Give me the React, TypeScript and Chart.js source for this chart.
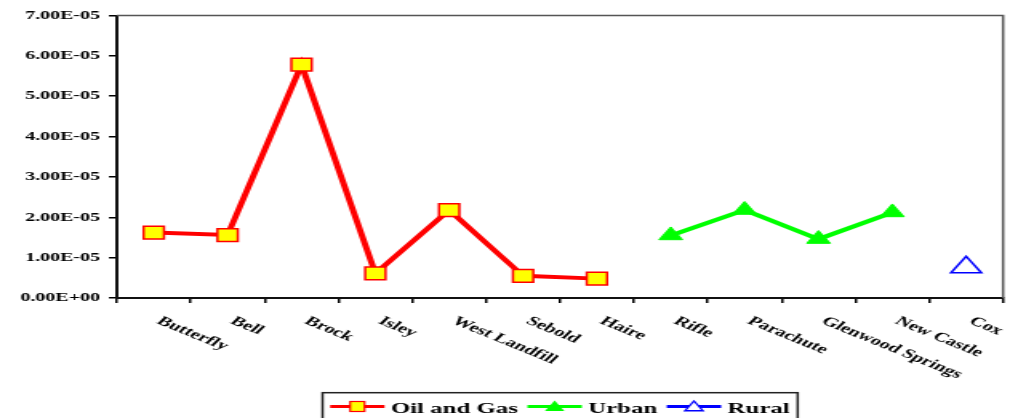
import React, { useEffect, useRef } from 'react';
import { Chart, registerables } from 'chart.js';

Chart.register(...registerables);

const categories = [
  'Butterfly', 'Bell', 'Brock', 'Isley', 'West Landfill', 'Sebold', 'Haire',
  'Rifle', 'Parachute', 'Glenwood Springs', 'New Castle', 'Cox',
];
const oilAndGas = [1.62e-5, 1.56e-5, 5.78e-5, 0.61e-5, 2.18e-5, 0.55e-5, 0.48e-5, null, null, null, null, null];
const urban = [null, null, null, null, null, null, null, 1.55e-5, 2.18e-5, 1.46e-5, 2.12e-5, null];
const rural = [null, null, null, null, null, null, null, null, null, null, null, 0.76e-5];
const seriesNames = ['Oil and Gas', 'Urban', 'Rural'];
const yMin = 0;
const yMax = 7e-5;
const yStep = 1e-5;

const FONT = "'Liberation Serif', 'Times New Roman', serif";
const INNER_W = 631;
const INNER_H = 418;

function sci(v: number): string {
  if (Math.abs(v) < 1e-12) return '0.00E+00';
  const [m, e] = v.toExponential(2).split('e');
  const n = parseInt(e, 10);
  return m + 'E' + (n < 0 ? '-' : '+') + String(Math.abs(n)).padStart(2, '0');
}

const framePlugin = {
  id: 'frame',
  afterDraw(chart: any) {
    const { ctx, chartArea } = chart;
    ctx.save();
    ctx.strokeStyle = '#555';
    ctx.lineWidth = 1.5;
    ctx.beginPath();
    ctx.moveTo(chartArea.left, chartArea.top);
    ctx.lineTo(chartArea.right, chartArea.top);
    ctx.lineTo(chartArea.right, chartArea.bottom);
    ctx.stroke();
    ctx.restore();
  },
};

const xLabelPlugin = {
  id: 'xLabels',
  afterDraw(chart: any) {
    const ctx = chart.ctx;
    const xs = chart.scales.x;
    ctx.save();
    ctx.font = `bold 13px ${FONT}`;
    ctx.fillStyle = '#000';
    ctx.textAlign = 'left';
    ctx.textBaseline = 'top';
    (chart.data.labels as string[]).forEach((lab, i) => {
      const x = xs.getPixelForValue(i) + 6.5;
      const y = xs.top + 16.5;
      ctx.save();
      ctx.translate(x, y);
      ctx.rotate((33 * Math.PI) / 180);
      ctx.fillText(lab, 0, 0);
      ctx.restore();
    });
    ctx.restore();
  },
};

function tri(ctx: CanvasRenderingContext2D, x: number, y: number, r: number) {
  ctx.beginPath();
  for (let k = 0; k < 3; k++) {
    const a = (k * 2 * Math.PI) / 3;
    const px = x + Math.sin(a) * r;
    const py = y - Math.cos(a) * r;
    if (k === 0) ctx.moveTo(px, py);
    else ctx.lineTo(px, py);
  }
  ctx.closePath();
}

const legendPlugin = {
  id: 'customLegend',
  afterDraw(chart: any) {
    const ctx: CanvasRenderingContext2D = chart.ctx;
    const ds = chart.data.datasets;
    ctx.save();
    ctx.font = `bold 15.5px ${FONT}`;
    const left = 201.5;
    const top = 392.7;
    const lineY = 406.5;
    const textY = 413;
    let x = left + 4.75;
    const ends: number[] = [];
    ds.forEach((d: any, i: number) => {
      const lx0 = x;
      const lx1 = x + 34;
      ctx.strokeStyle = d.borderColor;
      ctx.lineWidth = 3;
      ctx.beginPath();
      ctx.moveTo(lx0, lineY);
      ctx.lineTo(lx1, lineY);
      ctx.stroke();
      const cx = (lx0 + lx1) / 2;
      if (i === 0) {
        ctx.fillStyle = '#FFFF00';
        ctx.strokeStyle = '#FF0000';
        ctx.lineWidth = 1.2;
        ctx.fillRect(cx - 4.5, lineY - 5, 9, 10);
        ctx.strokeRect(cx - 4.5, lineY - 5, 9, 10);
      } else if (i === 1) {
        ctx.fillStyle = '#00FF00';
        tri(ctx, cx, lineY + 1, 7);
        ctx.fill();
      } else {
        ctx.fillStyle = '#FFFFFF';
        ctx.strokeStyle = '#0000FF';
        ctx.lineWidth = 1.3;
        tri(ctx, cx, lineY + 1, 6.5);
        ctx.fill();
        ctx.stroke();
      }
      const tx = lx1 + 4;
      ctx.fillStyle = '#000';
      ctx.textAlign = 'left';
      ctx.textBaseline = 'alphabetic';
      ctx.fillText(d.label, tx, textY);
      const w = ctx.measureText(d.label).width;
      x = tx + w + 6;
      ends.push(tx + w);
    });
    const right = ends[ends.length - 1] + 5;
    ctx.strokeStyle = '#222';
    ctx.lineWidth = 1.5;
    ctx.strokeRect(left, top, right - left, 60);
    ctx.restore();
  },
};

export default function App() {
  const ref = useRef<HTMLCanvasElement | null>(null);

  useEffect(() => {
    document.body.style.margin = '0';
    document.body.style.overflow = 'hidden';
    const canvas = ref.current;
    if (!canvas) return;
    const chart = new Chart(canvas, {
      type: 'line',
      data: {
        labels: categories,
        datasets: [
          {
            label: seriesNames[0],
            data: oilAndGas,
            borderColor: '#FF0000',
            backgroundColor: '#FFFF00',
            borderWidth: 4,
            pointStyle: 'rect',
            pointRadius: 9,
            pointBackgroundColor: '#FFFF00',
            pointBorderColor: '#FF0000',
            pointBorderWidth: 1.5,
            tension: 0,
            spanGaps: false,
          },
          {
            label: seriesNames[1],
            data: urban,
            borderColor: '#00FF00',
            backgroundColor: '#00FF00',
            borderWidth: 4,
            pointStyle: 'triangle',
            pointRadius: 8.5,
            pointBackgroundColor: '#00FF00',
            pointBorderColor: '#00FF00',
            pointBorderWidth: 1,
            tension: 0,
            spanGaps: false,
          },
          {
            label: seriesNames[2],
            data: rural,
            borderColor: '#0000FF',
            backgroundColor: 'rgba(255,255,255,0)',
            borderWidth: 3,
            showLine: false,
            pointStyle: 'triangle',
            pointRadius: 11,
            pointBackgroundColor: 'rgba(255,255,255,0)',
            pointBorderColor: '#0000FF',
            pointBorderWidth: 1.5,
          },
        ],
      },
      options: {
        responsive: false,
        animation: false,
        devicePixelRatio: 1,
        events: [],
        layout: { autoPadding: false, padding: { top: 15.5, right: 4.3, left: 0, bottom: 0 } },
        plugins: {
          legend: { display: false },
          tooltip: { enabled: false },
        },
        scales: {
          x: {
            type: 'category',
            offset: true,
            afterFit: (s: any) => {
              s.height = 120;
              s.paddingLeft = 0;
              s.paddingRight = 0;
            },
            grid: {
              offset: true,
              drawOnChartArea: false,
              drawTicks: true,
              tickLength: 5,
              color: '#000',
              lineWidth: 1.5,
            },
            border: { display: true, color: '#111', width: 2 },
            ticks: { display: false },
          },
          y: {
            min: yMin,
            max: yMax,
            afterFit: (s: any) => {
              s.width = 73;
              s.paddingLeft = 0;
              s.paddingRight = 0;
            },
            grid: {
              drawOnChartArea: false,
              drawTicks: true,
              tickLength: 5,
              color: '#000',
              lineWidth: 1.5,
            },
            border: { display: true, color: '#111', width: 2 },
            ticks: {
              stepSize: yStep,
              padding: 5.5,
              color: '#000',
              font: { family: FONT, size: 12.5, weight: 'bold' },
              callback: (v: any) => sci(Number(v)),
            },
          },
        },
      } as any,
      plugins: [framePlugin, xLabelPlugin, legendPlugin],
    });
    return () => chart.destroy();
  }, []);

  return (
    <div style={{ position: 'absolute', left: 0, top: 0, width: 1010, height: 418, overflow: 'hidden', background: '#fff' }}>
      <canvas
        ref={ref}
        width={INNER_W}
        height={INNER_H}
        style={{ width: '1010px', height: '418px', display: 'block' }}
      />
    </div>
  );
}
